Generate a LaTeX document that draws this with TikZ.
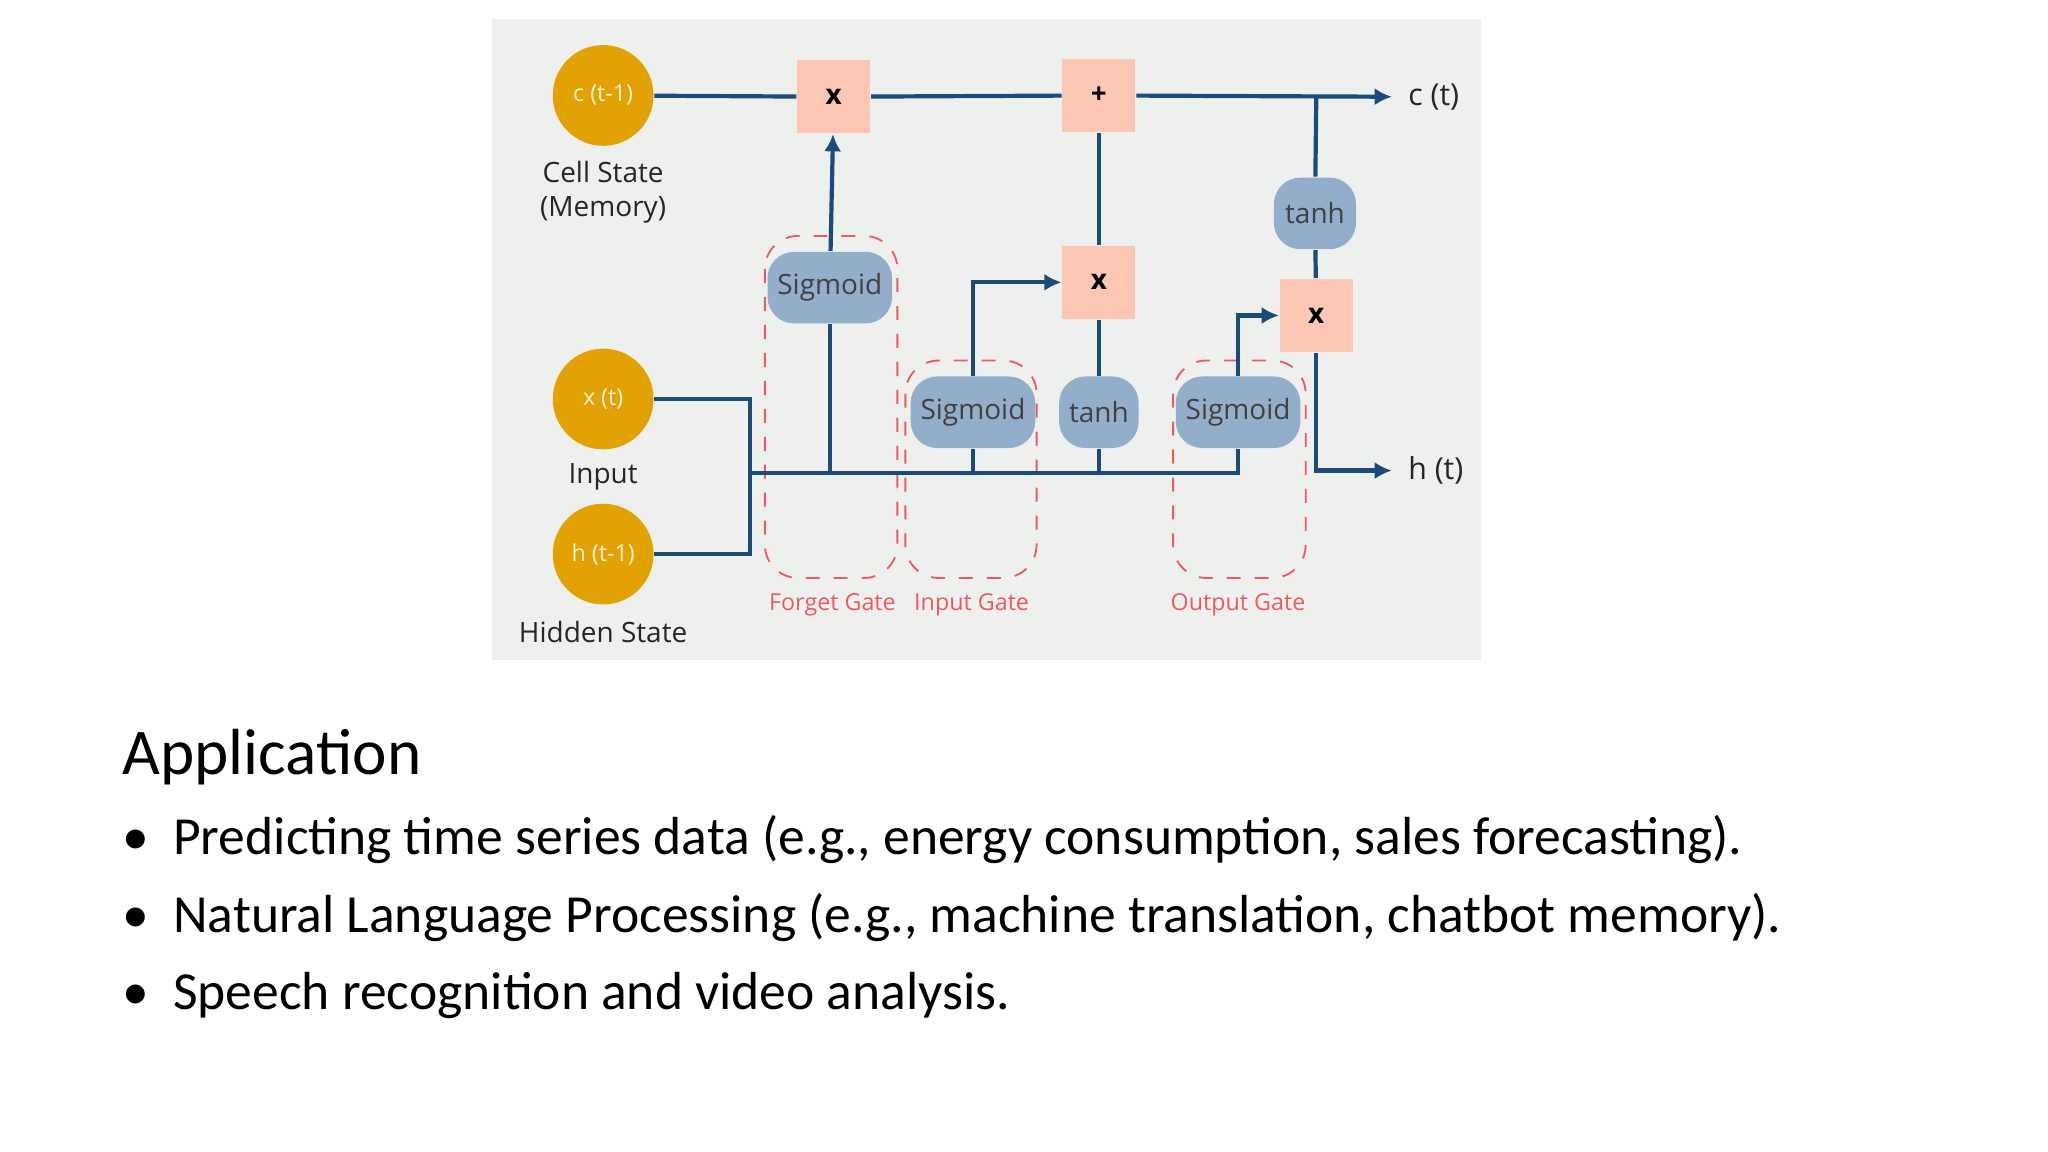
\documentclass[tikz,border=0pt]{standalone}
\usepackage{fontspec}
\setmainfont{Carlito}
\newfontfamily\canva{Open Sans}
\usetikzlibrary{arrows.meta}
\definecolor{bgc}{HTML}{EEF0EE}
\definecolor{gold}{HTML}{E2A204}
\definecolor{peach}{HTML}{FBC6B4}
\definecolor{steel}{HTML}{93AECB}
\definecolor{navy}{HTML}{1B4B7A}
\definecolor{gatered}{HTML}{EE5A60}
\tikzset{
  state/.style={circle,fill=gold,minimum size=7.6mm,inner sep=0pt,text=white!85!gold,font=\canva\fontsize{5}{6}\selectfont},
  op/.style={rectangle,fill=peach,minimum size=5.5mm,inner sep=0pt,font=\canva\bfseries\fontsize{6}{7}\selectfont},
  act/.style={rectangle,rounded corners=2mm,fill=steel,minimum height=5.4mm,minimum width=9.4mm,inner sep=0pt,text=black!75,font=\canva\fontsize{6}{7}\selectfont},
  lab/.style={align=center,font=\canva\fontsize{6}{7.2}\selectfont,text=black!85},
  gate/.style={draw=gatered,dashed,rounded corners=2.5mm,thin},
  gatelab/.style={text=gatered,font=\canva\fontsize{5}{6}\selectfont},
  wire/.style={draw=navy,line width=0.9pt},
  flow/.style={wire,-{Latex[length=1.3mm,width=1.3mm]}}
}
\begin{document}
\begin{tikzpicture}[x=0.1mm,y=-0.1mm]
\useasboundingbox (0,0) rectangle (1545,869);
\fill[bgc] (371,14) rectangle (1117,498);

% inputs
\node[state] (cprev) at (455,72) {c (t-1)};
\node[state] (xt) at (455,301) {x (t)};
\node[state] (hprev) at (455,418) {h (t-1)};
\node[lab] (cslab) at (455,145) {Cell State\\(Memory)};
\node[lab] (inlab) at (455,360) {Input};
\node[lab] (hslab) at (455,477) {Hidden State};

% gates
\draw[gate] (577,178) rectangle (677,436);
\draw[gate] (683,272) rectangle (782,436);
\draw[gate] (885,272) rectangle (985,436);
\node[gatelab] (fglab) at (628,456) {Forget Gate};
\node[gatelab] (iglab) at (733,456) {Input Gate};
\node[gatelab] (oglab) at (934,456) {Output Gate};

% operations
\node[op] (mulf) at (629,73) {x};
\node[op] (add) at (829,72) {+};
\node[op] (muli) at (829,213) {x};
\node[op] (mulo) at (993,238) {x};
\node[act] (sigf) at (626,217) {Sigmoid};
\node[act] (sigi) at (734,311) {Sigmoid};
\node[act,minimum width=6mm] (tanhi) at (829,311) {tanh};
\node[act] (sigo) at (934,311) {Sigmoid};
\node[act,minimum width=6.2mm] (tanho) at (992,161) {tanh};
\node[lab,font=\canva\fontsize{6.5}{8}\selectfont,anchor=west] (ct) at (1050,73) {c (t)};
\node[lab,font=\canva\fontsize{6.5}{8}\selectfont,anchor=west] (ht) at (1050,355) {h (t)};

\coordinate (ctap) at (993,73);
\coordinate (bus) at (566,357);
\coordinate (busend) at (934,357);

% cell state line
\draw[wire] (cprev) -- (mulf);
\draw[wire] (mulf) -- (add);
\draw[flow] (add) -- (ct.west);

% input bus
\draw[wire] (xt.east) -| (bus) |- (hprev.east);
\draw[wire] (bus) -- (busend) -- (sigo);
\draw[wire] (sigf.south |- bus) -- (sigf);
\draw[flow] (sigf) -- (mulf);
\draw[wire] (sigi.south |- bus) -- (sigi);
\draw[flow] (sigi) |- (muli);
\draw[wire] (tanhi.south |- bus) -- (tanhi);
\draw[wire] (tanhi) -- (muli);
\draw[wire] (muli) -- (add);
\draw[flow] (sigo) |- (mulo);

% output
\draw[wire] (ctap) -- (tanho);
\draw[wire] (tanho) -- (mulo);
\draw[flow] (mulo) |- (ht.west);

% text
\node[anchor=west,font=\fontsize{14}{17}\selectfont] (apptitle) at (80,571) {Application};
\foreach \y/\t [count=\i] in {633/{Predicting time series data (e.g., energy consumption, sales forecasting).},
  692/{Natural Language Processing (e.g., machine translation, chatbot memory).},
  751/{Speech recognition and video analysis.}}
  \node[anchor=west,font=\fontsize{11.5}{14}\selectfont] (item\i) at (80,\y) {\textbullet\hspace{0.45em}\t};
\end{tikzpicture}
\end{document}
